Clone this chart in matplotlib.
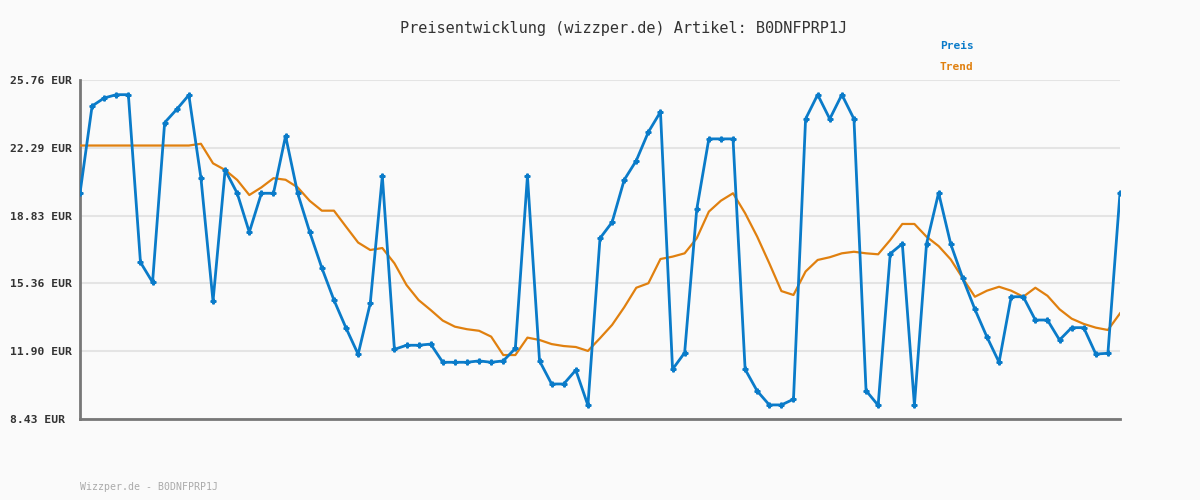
import numpy as np
import matplotlib
matplotlib.use("Agg")
import matplotlib.pyplot as plt

# Data
preis = [19.97, 24.43, 24.84, 25.01, 25.01, 16.44, 15.42, 23.58, 24.26, 24.99,
         20.75, 14.45, 21.16, 19.97, 17.98, 19.97, 19.97, 22.90, 19.97, 17.98,
         16.15, 14.51, 13.08, 11.74, 14.34, 20.85, 11.99, 12.20, 12.20, 12.26,
         11.33, 11.33, 11.33, 11.40, 11.33, 11.40, 12.04, 20.85, 11.40, 10.22,
         10.22, 10.93, 9.13, 17.67, 18.49, 20.65, 21.64, 23.10, 24.13, 10.97,
         11.82, 19.15, 22.75, 22.75, 22.75, 10.97, 9.86, 9.15, 9.15, 9.44,
         23.77, 25.01, 23.77, 25.01, 23.77, 9.88, 9.13, 16.88, 17.39, 9.13,
         17.38, 19.99, 17.38, 15.62, 14.04, 12.62, 11.33, 14.68, 14.68, 13.49,
         13.49, 12.47, 13.10, 13.10, 11.75, 11.79, 19.99]

trend = [22.41, 22.41, 22.41, 22.41, 22.41, 22.41, 22.41, 22.41, 22.41, 22.41,
         22.50, 21.50, 21.16, 20.65, 19.88, 20.27, 20.74, 20.66, 20.27, 19.58,
         19.08, 19.08, 18.26, 17.45, 17.07, 17.17, 16.39, 15.28, 14.51, 14.00,
         13.46, 13.15, 13.02, 12.94, 12.64, 11.70, 11.70, 12.59, 12.47, 12.26,
         12.16, 12.11, 11.91, 12.56, 13.24, 14.14, 15.14, 15.37, 16.61, 16.73,
         16.90, 17.67, 19.03, 19.59, 19.97, 18.95, 17.75, 16.39, 14.97, 14.77,
         15.97, 16.56, 16.70, 16.90, 16.98, 16.90, 16.85, 17.58, 18.40, 18.40,
         17.75, 17.27, 16.59, 15.62, 14.68, 14.99, 15.19, 14.99, 14.68, 15.14,
         14.73, 14.04, 13.56, 13.29, 13.10, 12.98, 13.83]

yticks = [8.43, 11.90, 15.36, 18.83, 22.29, 25.76]
ytick_labels = ["%.2f EUR" % v for v in yticks]

title = "Preisentwicklung (wizzper.de) Artikel: B0DNFPRP1J"
footer = "Wizzper.de - B0DNFPRP1J"

blue = "#0a7bc9"
orange = "#e0800f"
bg = "#fafafa"

plt.rcParams["font.family"] = ["DejaVu Sans Mono"]

fig = plt.figure(figsize=(12, 5), dpi=100, facecolor=bg)
ax = fig.add_axes([80 / 1200, 1 - 419 / 500, 1040 / 1200, 339 / 500], facecolor=bg)

x = np.arange(len(preis))
ax.plot(x, trend, color=orange, lw=1.6, zorder=3)
ax.plot(x, preis, color=blue, lw=2, marker="P", markersize=3.5, zorder=4)

ax.set_xlim(0, len(preis) - 1)
ax.set_ylim(yticks[0], yticks[-1])
ax.set_yticks(yticks)
ax.set_yticklabels(ytick_labels, fontsize=8.2, fontweight="bold", color="#333333")
for lbl in ax.get_yticklabels():
    lbl.set_horizontalalignment("left")
ax.set_xticks([])
# left edge of tick labels at x = 10 px (70 px from the spine)
ax.tick_params(axis="y", length=0, pad=70 * 72 / 100)
ax.grid(axis="y", color="#e4e4e4", lw=1.5, zorder=0)

for s in ["top", "right"]:
    ax.spines[s].set_visible(False)
for s in ["left", "bottom"]:
    ax.spines[s].set_color("#777777")
    ax.spines[s].set_linewidth(2)

fig.text(624 / 1200, 1 - 28 / 500, title, ha="center", va="center", fontsize=11, color="#333333")
fig.text(940 / 1200, 1 - 46 / 500, "Preis", ha="left", va="center",
         fontsize=8, fontweight="bold", color=blue)
fig.text(940 / 1200, 1 - 67 / 500, "Trend", ha="left", va="center",
         fontsize=8, fontweight="bold", color=orange)
fig.text(80 / 1200, 1 - 487 / 500, footer, ha="left", va="center",
         fontsize=7.1, color="#aaaaaa")

fig.savefig("out.png", dpi=100, facecolor=bg)
